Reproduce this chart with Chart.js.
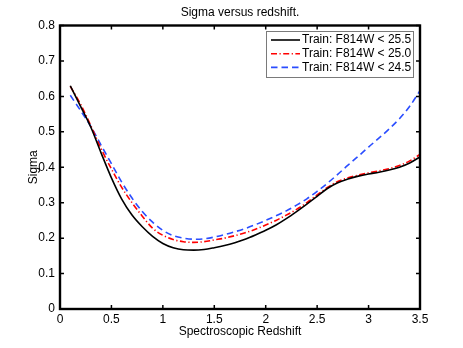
<!DOCTYPE html>
<html>
<head>
<meta charset="utf-8">
<script src="https://cdn.jsdelivr.net/npm/chart.js@4.4.1/dist/chart.umd.min.js"></script>
<style>
  html, body { margin: 0; padding: 0; background: #ffffff; }
  #wrap { width: 463px; height: 348px; position: relative; }
</style>
</head>
<body>
<div id="wrap"><canvas id="c" width="463" height="348"></canvas></div>
<script>
// ---- Data ----
const redshift = [0.1,0.2,0.3,0.4,0.5,0.6,0.7,0.8,0.9,1.0,1.1,1.2,1.3,1.4,1.5,1.6,1.7,1.8,1.9,2.0,2.1,2.2,2.3,2.4,2.5,2.6,2.7,2.8,2.9,3.0,3.1,3.2,3.3,3.4,3.5];
const sigma255 = [0.630,0.572,0.513,0.440,0.370,0.310,0.265,0.232,0.205,0.185,0.173,0.167,0.166,0.168,0.173,0.179,0.187,0.197,0.209,0.222,0.237,0.255,0.275,0.296,0.318,0.340,0.356,0.367,0.375,0.381,0.386,0.392,0.400,0.412,0.429];
const sigma250 = [0.628,0.578,0.517,0.452,0.395,0.343,0.300,0.262,0.228,0.208,0.196,0.190,0.188,0.190,0.195,0.200,0.207,0.215,0.225,0.237,0.250,0.265,0.281,0.300,0.322,0.343,0.360,0.370,0.378,0.384,0.390,0.396,0.405,0.418,0.436];
const sigma245 = [0.603,0.560,0.515,0.462,0.410,0.358,0.313,0.275,0.245,0.222,0.207,0.200,0.197,0.198,0.203,0.210,0.218,0.227,0.238,0.250,0.263,0.277,0.293,0.311,0.332,0.355,0.380,0.406,0.431,0.457,0.482,0.508,0.537,0.572,0.616];
const seriesNames = ['Train: F814W < 25.5', 'Train: F814W < 25.0', 'Train: F814W < 24.5'];
const xTickValues = [0,0.5,1,1.5,2,2.5,3,3.5];
const xTickLabels = ['0','0.5','1','1.5','2','2.5','3','3.5'];
const yTickValues = [0,0.1,0.2,0.3,0.4,0.5,0.6,0.7,0.8];
const yTickLabels = ['0','0.1','0.2','0.3','0.4','0.5','0.6','0.7','0.8'];
const chartTitle = 'Sigma versus redshift.';
const xTitle = 'Spectroscopic Redshift';
const yTitle = 'Sigma';

const FONT = 'Liberation Sans, Arial, Helvetica, sans-serif';

function pts(ys) { return redshift.map((x, i) => ({x: x, y: ys[i]})); }

const frameAndTicks = {
  id: 'frameAndTicks',
  afterDatasetsDraw(chart) {
    const {ctx, chartArea: a, scales: {x, y}} = chart;
    ctx.save();
    ctx.strokeStyle = '#000';
    ctx.lineWidth = 1.5;
    const tl = 4;
    ctx.beginPath();
    xTickValues.forEach(v => {
      const px = x.getPixelForValue(v);
      ctx.moveTo(px, a.bottom); ctx.lineTo(px, a.bottom - tl);
      ctx.moveTo(px, a.top); ctx.lineTo(px, a.top + tl);
    });
    yTickValues.forEach(v => {
      const py = y.getPixelForValue(v);
      ctx.moveTo(a.left, py); ctx.lineTo(a.left + tl, py);
      ctx.moveTo(a.right, py); ctx.lineTo(a.right - tl, py);
    });
    ctx.stroke();
    ctx.lineWidth = 2.4;
    ctx.strokeRect(a.left, a.top, a.right - a.left, a.bottom - a.top);

    // legend
    const bw = 147, bh = 46;
    const bx = a.right - 7 - bw, by = a.top + 5.5;
    ctx.fillStyle = '#fff';
    ctx.fillRect(bx, by, bw, bh);
    ctx.lineWidth = 1;
    ctx.strokeStyle = '#7a7a7a';
    ctx.strokeRect(bx + 0.5, by + 0.5, bw, bh);
    ctx.font = '12px ' + FONT;
    ctx.textBaseline = 'middle';
    ctx.textAlign = 'left';
    chart.data.datasets.forEach((ds, i) => {
      const ly = by + 9 + i * 13.7;
      ctx.save();
      ctx.strokeStyle = ds.borderColor;
      ctx.lineWidth = ds.borderWidth;
      ctx.setLineDash(ds.borderDash || []);
      ctx.beginPath();
      ctx.moveTo(bx + 5, ly); ctx.lineTo(bx + 34, ly);
      ctx.stroke();
      ctx.restore();
      ctx.fillStyle = '#000';
      ctx.fillText(ds.label, bx + 36, ly);
    });
    ctx.restore();
  }
};

new Chart(document.getElementById('c'), {
  type: 'line',
  data: {
    datasets: [
      { label: seriesNames[0], data: pts(sigma255), borderColor: '#000000', borderWidth: 1.6, borderDash: [], pointRadius: 0, cubicInterpolationMode: 'monotone', fill: false },
      { label: seriesNames[1], data: pts(sigma250), borderColor: '#ff0000', borderWidth: 1.6, borderDash: [6, 2.5, 1.2, 2.5], pointRadius: 0, cubicInterpolationMode: 'monotone', fill: false },
      { label: seriesNames[2], data: pts(sigma245), borderColor: '#2a4dff', borderWidth: 1.6, borderDash: [6.5, 4], pointRadius: 0, cubicInterpolationMode: 'monotone', fill: false }
    ]
  },
  options: {
    responsive: false,
    animation: false,
    events: [],
    layout: { padding: { left: 22, right: 43, top: 0, bottom: 5 } },
    plugins: {
      legend: { display: false },
      tooltip: { enabled: false },
      title: {
        display: true, text: chartTitle, fullSize: false, color: '#000',
        font: { family: FONT, size: 12, weight: 'normal', lineHeight: 1.2 },
        padding: { top: 5, bottom: 6.1 }
      }
    },
    scales: {
      x: {
        type: 'linear', min: 0, max: 3.5,
        afterFit(s) { s.height = 34; },
        afterBuildTicks(s) { s.ticks = xTickValues.map(v => ({value: v})); },
        ticks: {
          color: '#000', font: { family: FONT, size: 12 }, padding: 3, maxRotation: 0, autoSkip: false,
          callback: (v) => { const i = xTickValues.indexOf(v); return i >= 0 ? xTickLabels[i] : ''; }
        },
        grid: { display: true, drawOnChartArea: false, drawTicks: false, color: 'rgba(0,0,0,0)' },
        border: { display: false },
        title: { display: true, text: xTitle, color: '#000', font: { family: FONT, size: 12, lineHeight: 1.2 }, padding: { top: 0, bottom: 4 } }
      },
      y: {
        type: 'linear', min: 0, max: 0.8,
        afterFit(s) { s.width = 38; },
        afterBuildTicks(s) { s.ticks = yTickValues.map(v => ({value: v})); },
        ticks: {
          color: '#000', font: { family: FONT, size: 12 }, padding: 5, autoSkip: false,
          callback: (v) => { const i = yTickValues.findIndex(t => Math.abs(t - v) < 1e-9); return i >= 0 ? yTickLabels[i] : ''; }
        },
        grid: { display: true, drawOnChartArea: false, drawTicks: false, color: 'rgba(0,0,0,0)' },
        border: { display: false },
        title: { display: true, text: yTitle, color: '#000', font: { family: FONT, size: 12, lineHeight: 1.2 }, padding: { top: 4, bottom: 0 } }
      }
    }
  },
  plugins: [frameAndTicks]
});
</script>
</body>
</html>
